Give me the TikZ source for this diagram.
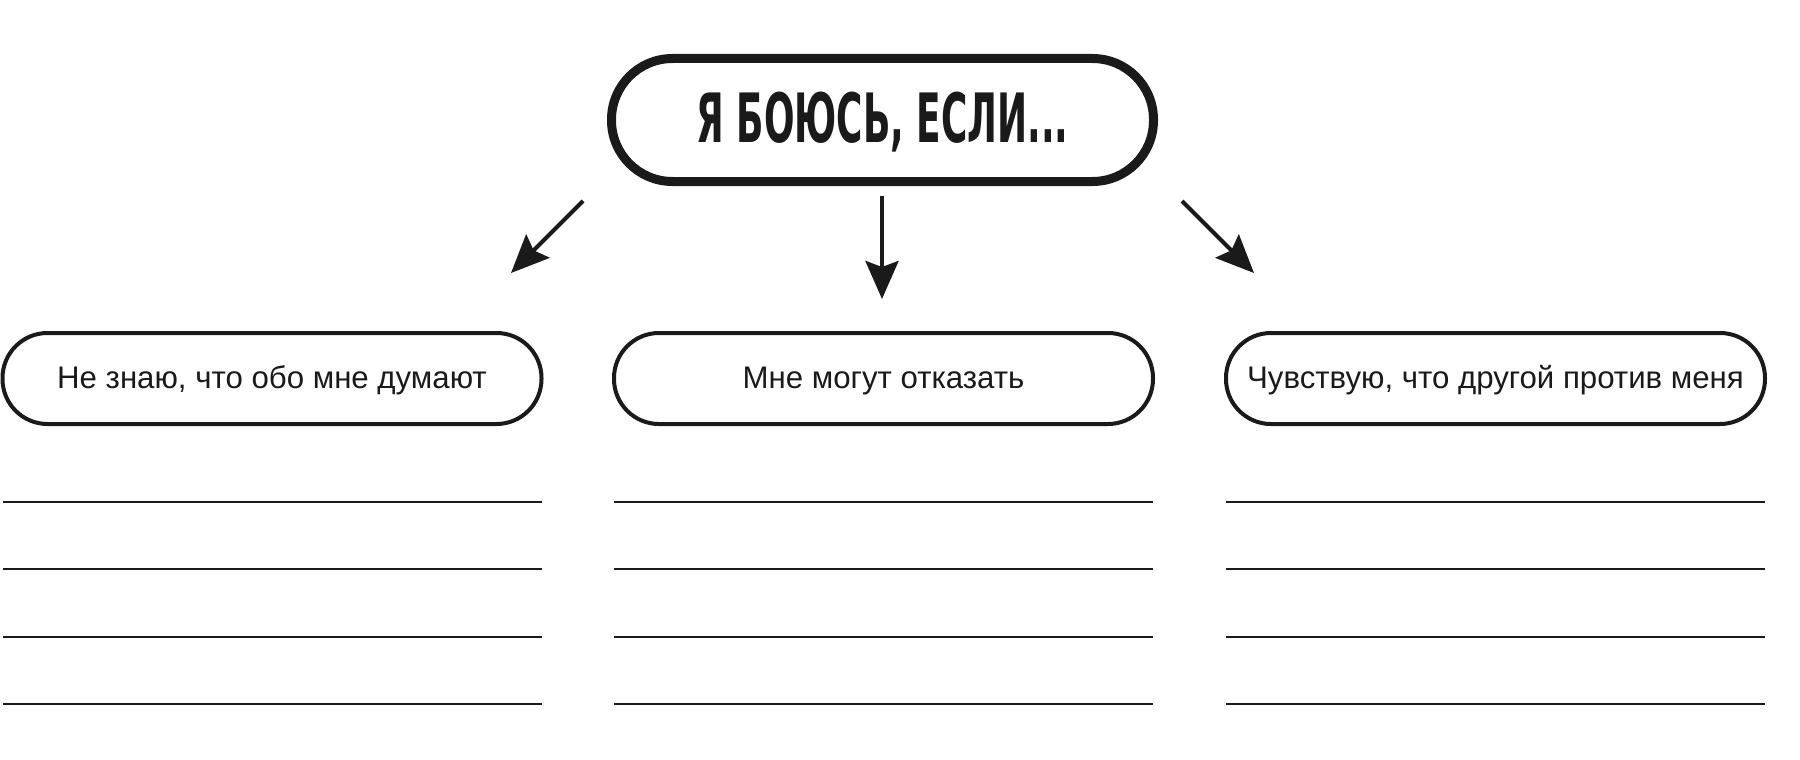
\documentclass[tikz,border=0pt]{standalone}
\usepackage{fontspec}
\usepackage{graphicx}
\setmainfont{Liberation Sans}
\newfontfamily\titlefont{DejaVu Sans}
\usetikzlibrary{arrows.meta}
\definecolor{ink}{HTML}{1A1A1A}
\tikzset{
  titlebox/.style={draw=ink, line width=9pt, rounded corners=61pt, inner sep=0pt, outer sep=0pt,
    minimum width=542pt, minimum height=123pt, text=ink, text height=49pt, text depth=5pt},
  itembox/.style={draw=ink, line width=4pt, rounded corners=45pt, inner sep=0pt, outer sep=0pt,
    minimum width=539pt, minimum height=91pt, text=ink, font=\fontsize{31.2pt}{34pt}\selectfont,
    text height=22pt, text depth=3pt},
  pointer/.style={draw=ink, line width=4pt, -{Stealth[length=38pt, width=33pt, inset=6pt]}},
  ruleline/.style={draw=ink, line width=2pt}
}
\begin{document}
\begin{tikzpicture}[x=1pt, y=-1pt]
  \useasboundingbox (0,0) rectangle (1800,760);
  \fill[white] (0,0) rectangle (1800,760);

  \node[titlebox] (top) at (882.5,120)
    {\resizebox{372pt}{\height}{\titlefont\bfseries\fontsize{68pt}{70pt}\selectfont Я БОЮСЬ, ЕСЛИ...}};

  \node[itembox] (left) at (272,378.5) {Не знаю, что обо мне думают};
  \node[itembox] (mid) at (883.5,378.5) {Мне могут отказать};
  \node[itembox] (right) at (1495.5,378.5) {Чувствую, что другой против меня};

  \coordinate (ls) at (583,201);
  \coordinate (le) at (511,273);
  \coordinate (ms) at (882,196);
  \coordinate (me) at (882,299);
  \coordinate (rs) at (1182,201);
  \coordinate (re) at (1254,273);
  \draw[pointer] (ls) -- (le);
  \draw[pointer] (ms) -- (me);
  \draw[pointer] (rs) -- (re);

  \foreach \b in {left,mid,right}{
    \foreach \d in {78,145,213,280}{
      \draw[ruleline] ([yshift=-\d pt]\b.south west) -- ([yshift=-\d pt]\b.south east);
    }
  }
\end{tikzpicture}
\end{document}
